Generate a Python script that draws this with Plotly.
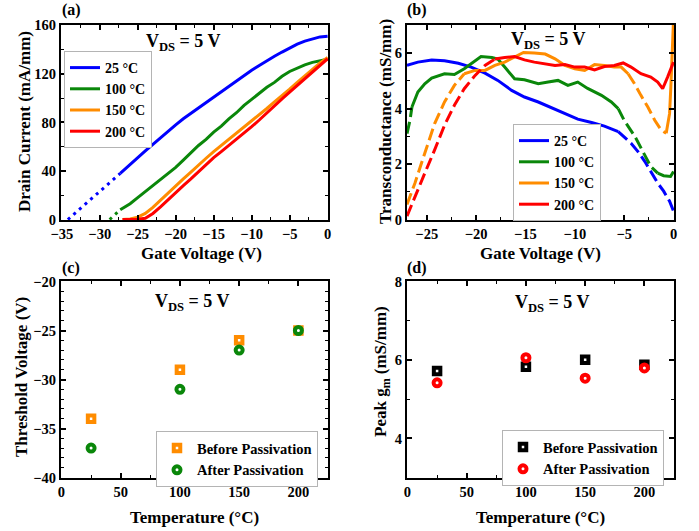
import plotly.graph_objects as go

W, H = 699, 531
FONT = "Liberation Serif"

# ---------------- data ----------------
# (a) drain current vs gate voltage
a_vg_25 = [-27.3, -26, -25, -24, -23, -22, -21, -20, -19, -18, -17, -16, -15, -14, -13, -12, -11, -10,
           -9, -8, -7, -6, -5, -4, -3, -2, -1, 0]
a_id_25 = [38, 45, 51, 56.5, 62, 67.5, 73, 78, 83, 87.5, 92, 96.5, 101, 105.5, 110, 114.5, 119, 123,
           127, 131, 134.5, 138, 141.5, 144.5, 147, 149, 150.5, 151]
a_vg_25_ext = [-34.2, -27.3]
a_id_25_ext = [0, 38]

a_vg_100 = [-27.3, -26, -25, -24, -23, -22, -21, -20, -19, -18, -17, -16, -15, -14, -13, -12, -11, -10,
            -9, -8, -7, -6, -5, -4, -3, -2, -1, 0]
a_id_100 = [8, 13, 18, 23, 28, 33, 38, 43, 49, 55, 61, 66, 72, 77, 83, 88, 94, 99,
            104, 109, 113, 118, 122, 125, 127.5, 129.5, 131, 132]
a_vg_100_ext = [-28.7, -27.3]
a_id_100_ext = [0, 8]

a_vg_hot = [-27, -26, -25, -24, -23, -22, -21, -20, -19, -18, -17, -16, -15, -14, -13, -12, -11, -10,
            -9, -8, -7, -6, -5, -4, -3, -2, -1, 0]
a_id_150 = [0, 0.5, 2, 5, 10, 16, 22, 28, 33.5, 39, 45, 50.5, 56, 61, 66, 71, 76, 81,
            86.5, 91.5, 97, 102, 107.5, 113, 118.5, 124, 129, 133.5]
a_id_200 = [0, 0, 0.3, 1, 5, 10.5, 16.5, 22, 28, 33.5, 39.5, 45, 51, 56, 61, 66, 71, 76.5,
            82, 88, 94, 99.5, 105, 110.5, 116, 121.5, 127, 132.5]

# (b) transconductance vs gate voltage
b_vg_25 = [-27, -25.9, -24.5, -23.2, -21.8, -20.5, -19.1, -17.8, -16.4, -15.1, -13.7, -12.4, -11.0,
           -9.7, -8.3, -7.0, -5.6, -5.0, -4.3, -3.6, -2.9, -2.3, -1.6, -1.0, -0.4, 0]
b_gm_25 = [5.56, 5.68, 5.76, 5.73, 5.64, 5.5, 5.28, 5.02, 4.66, 4.42, 4.24, 4.04, 3.8,
           3.62, 3.5, 3.37, 3.17, 2.99, 2.75, 2.45, 2.09, 1.73, 1.31, 1.02, 0.66, 0.3]
b_vg_100 = [-27, -26.7, -26.5, -25.9, -25.2, -24.5, -23.2, -22.2, -21.2, -20.1, -19.5, -18.4, -17.8,
            -17.1, -16.1, -15.1, -13.7, -12.7, -11.7, -10.7, -9.7, -8.7, -7.3, -6.3, -5.6, -5.0,
            -3.9, -2.9, -2.3, -1.6, -1.0, -0.3, 0]
b_gm_100 = [3.1, 3.58, 4.06, 4.6, 4.9, 5.1, 5.26, 5.23, 5.44, 5.73, 5.88, 5.85, 5.79,
            5.5, 5.08, 5.04, 4.9, 4.96, 5.02, 4.84, 4.96, 4.73, 4.48, 4.24, 4.0, 3.58,
            2.99, 2.33, 1.91, 1.67, 1.58, 1.55, 1.73]
b_vg_150 = [-27, -26.2, -25.2, -24.2, -23.2, -22.2, -21.2, -20.1, -19.1, -18.1, -17.1, -16.1, -15.2,
            -14.1, -13.0, -12.0, -11.0, -10.0, -9.0, -8.0, -7.0, -6.0, -5.3, -4.6, -3.95, -3.3,
            -2.6, -1.9, -1.25, -0.74, -0.4, -0.27, 0]
b_gm_150 = [0.54, 1.31, 2.39, 3.46, 4.24, 4.84, 5.26, 5.38, 5.38, 5.56, 5.68, 5.85, 6.03,
            6.01, 5.97, 5.8, 5.56, 5.44, 5.38, 5.59, 5.56, 5.5, 5.5, 5.26, 4.9, 4.48,
            4.06, 3.58, 3.23, 3.11, 3.82, 4.78, 7.2]
b_vg_200 = [-27, -26.2, -25.2, -24.2, -23.2, -22.2, -21.2, -20.1, -19.1, -18.1, -17.1, -16.1, -15.1,
            -14.1, -13.0, -12.0, -11.0, -10.0, -9.0, -8.0, -7.0, -6.0, -5.1, -4.3, -3.3, -2.3,
            -1.6, -1.1, -0.6, 0]
b_gm_200 = [0.12, 0.84, 1.67, 2.51, 3.4, 4.12, 4.72, 5.2, 5.56, 5.79, 5.85, 5.88, 5.76,
            5.68, 5.62, 5.56, 5.59, 5.5, 5.5, 5.4, 5.52, 5.56, 5.65, 5.5, 5.26, 5.14,
            4.96, 4.72, 5.14, 5.68]

# (c), (d) summary vs temperature
temps = [25, 100, 150, 200]
vth_before = [-34, -29, -26, -25]
vth_after = [-37, -31, -27, -25]
gm_before = [5.72, 5.83, 6.01, 5.88]
gm_after = [5.42, 6.06, 5.54, 5.80]

labels_T = ["25 °C", "100 °C", "150 °C", "200 °C"]
# ---------------- style ----------------
C_BLUE, C_GREEN, C_ORANGE, C_RED = "#0000ff", "#0a870a", "#ff8c00", "#ff0000"
DASH = "12px,5px"
DOT = "3px,4.5px"
LW = 3


def px(x):
    return x / W


def py(y):
    return 1 - y / H


fig = go.Figure()


def add_line(x, y, color, dash, name, show, xa, ya, leg):
    fig.add_trace(go.Scatter(x=x, y=y, mode="lines", name=name, showlegend=show,
                             line=dict(color=color, width=LW, dash=dash),
                             xaxis=xa, yaxis=ya, legend=leg, hoverinfo="skip"))


def add_segmented(x, y, color, name, breaks, xa, ya, leg):
    """breaks: list of (v_start, v_end, dash) style segments"""
    first = True
    order = sorted(breaks, key=lambda b: 0 if b[2] == "solid" else 1)
    for v0, v1, dash in order:
        xs = [v for v in x if v0 <= v <= v1]
        ys = [yy for v, yy in zip(x, y) if v0 <= v <= v1]
        add_line(xs, ys, color, dash, name, first and dash == "solid", xa, ya, leg)
        if dash == "solid":
            first = False


# (a)
add_line(a_vg_25, a_id_25, C_BLUE, "solid", labels_T[0], True, "x", "y", "legend")
add_line(a_vg_100, a_id_100, C_GREEN, "solid", labels_T[1], True, "x", "y", "legend")
add_line(a_vg_hot, a_id_150, C_ORANGE, "solid", labels_T[2], True, "x", "y", "legend")
add_line(a_vg_hot, a_id_200, C_RED, "solid", labels_T[3], True, "x", "y", "legend")
add_line(a_vg_25_ext, a_id_25_ext, C_BLUE, DOT, "", False, "x", "y", "legend")
add_line(a_vg_100_ext, a_id_100_ext, C_GREEN, DOT, "", False, "x", "y", "legend")

# (b)
add_segmented(b_vg_25, b_gm_25, C_BLUE, labels_T[0],
              [(-27, -5.6, "solid"), (-5.6, 0, DASH)], "x2", "y2", "legend2")
add_segmented(b_vg_100, b_gm_100, C_GREEN, labels_T[1],
              [(-27, -26.5, DASH), (-26.5, -5.6, "solid"), (-5.6, -1.6, DASH), (-1.6, 0, "solid")],
              "x2", "y2", "legend2")
add_segmented(b_vg_150, b_gm_150, C_ORANGE, labels_T[2],
              [(-27, -21.2, DASH), (-21.2, -4.6, "solid"), (-4.6, -0.74, DASH), (-0.74, 0, "solid")],
              "x2", "y2", "legend2")
add_segmented(b_vg_200, b_gm_200, C_RED, labels_T[3],
              [(-27, -18.1, DASH), (-18.1, 0, "solid")], "x2", "y2", "legend2")


def marker(symbol, color, size):
    return dict(symbol=symbol, size=size, color="white", line=dict(color=color, width=4))


# (c)
fig.add_trace(go.Scatter(x=temps, y=vth_before, mode="markers", name="Before Passivation",
                         marker=marker("square", C_ORANGE, 6.5), xaxis="x3", yaxis="y3", legend="legend3"))
fig.add_trace(go.Scatter(x=temps, y=vth_after, mode="markers", name="After Passivation",
                         marker=marker("circle", C_GREEN, 7), xaxis="x3", yaxis="y3", legend="legend3"))
# (d)
fig.add_trace(go.Scatter(x=temps, y=gm_before, mode="markers", name="Before Passivation",
                         marker=marker("square", "black", 6.5), xaxis="x4", yaxis="y4", legend="legend4"))
fig.add_trace(go.Scatter(x=temps, y=gm_after, mode="markers", name="After Passivation",
                         marker=marker("circle", C_RED, 7), xaxis="x4", yaxis="y4", legend="legend4"))

# ---------------- axes ----------------
DX_A = [px(61), px(328)]
DX_B = [px(407), px(674)]
DY_T = [py(220), py(25)]
DY_B = [py(478), py(281)]

tickfont = dict(family=FONT, size=14.5, color="black", weight="bold")


def ax(rng, dtick, mdtick, domain, anchor):
    return dict(range=rng, dtick=dtick, tick0=0, domain=domain, anchor=anchor,
                showline=True, linecolor="black", linewidth=2, mirror="allticks",
                ticks="inside", ticklen=5, tickwidth=1.5, tickcolor="black",
                showgrid=False, zeroline=False, tickfont=tickfont, automargin=False,
                minor=dict(ticks="inside", ticklen=3, tickwidth=1.2, tickcolor="black",
                           dtick=mdtick, tick0=0, showgrid=False))


def leg(x, y, size):
    return dict(x=px(x), y=py(y), xanchor="left", yanchor="top", bgcolor="white",
                bordercolor="#b4b4b4", borderwidth=1, tracegroupgap=0, itemwidth=30,
                font=dict(family=FONT, size=size, color="black", weight="bold"))


fig.update_layout(
    width=W, height=H, autosize=False,
    margin=dict(l=0, r=0, t=0, b=0, pad=0, autoexpand=False),
    paper_bgcolor="white", plot_bgcolor="white",
    xaxis=ax([-35.1, 0.05], 5, 2.5, DX_A, "y"),
    yaxis=ax([-0.4, 160.3], 40, 20, DY_T, "x"),
    xaxis2=ax([-27, 0.05], 5, 2.5, DX_B, "y2"),
    yaxis2=ax([-0.02, 7.02], 2, 1, DY_T, "x2"),
    xaxis3=ax([-0.4, 225], 50, 25, DX_A, "y3"),
    yaxis3=ax([-40.05, -19.95], 5, 1, DY_B, "x3"),
    xaxis4=ax([-0.4, 225], 50, 25, DX_B, "y4"),
    yaxis4=ax([2.99, 8.02], 2, 1, DY_B, "x4"),
    legend=leg(64, 51, 14),
    legend2=leg(513, 124, 14),
    legend3=leg(156, 431, 14.5),
    legend4=leg(502, 430, 14.5),
)

# ---------------- text ----------------
def ann(text, x, y, size, angle=0):
    fig.add_annotation(text=text, x=px(x), y=py(y), xref="paper", yref="paper",
                       showarrow=False, textangle=angle, xanchor="center", yanchor="middle",
                       font=dict(family=FONT, size=size, color="black", weight="bold"))


ann("(a)", 71, 10, 16)
ann("(b)", 417, 10, 16)
ann("(c)", 71, 268, 16)
ann("(d)", 417, 268, 16)

vds = "V<sub>DS</sub> = 5 V"
ann(vds, 183, 42, 18)
ann(vds, 548, 40, 18)
ann(vds, 192, 302, 18)
ann(vds, 552, 303, 18)

ann("Drain Current (mA/mm)", 25, 122, 17, -90)
ann("Transconductance (mS/mm)", 386, 122, 17, -90)
ann("Threshold Voltage (V)", 21, 377, 17, -90)
ann("Peak g<sub>m</sub> (mS/mm)", 382, 372, 17, -90)

ann("Gate Voltage (V)", 201, 253, 17)
ann("Gate Voltage (V)", 540, 253, 17)
ann("Temperature (°C)", 195, 517, 17)
ann("Temperature (°C)", 540, 517, 17)

fig.write_html("out.html")
